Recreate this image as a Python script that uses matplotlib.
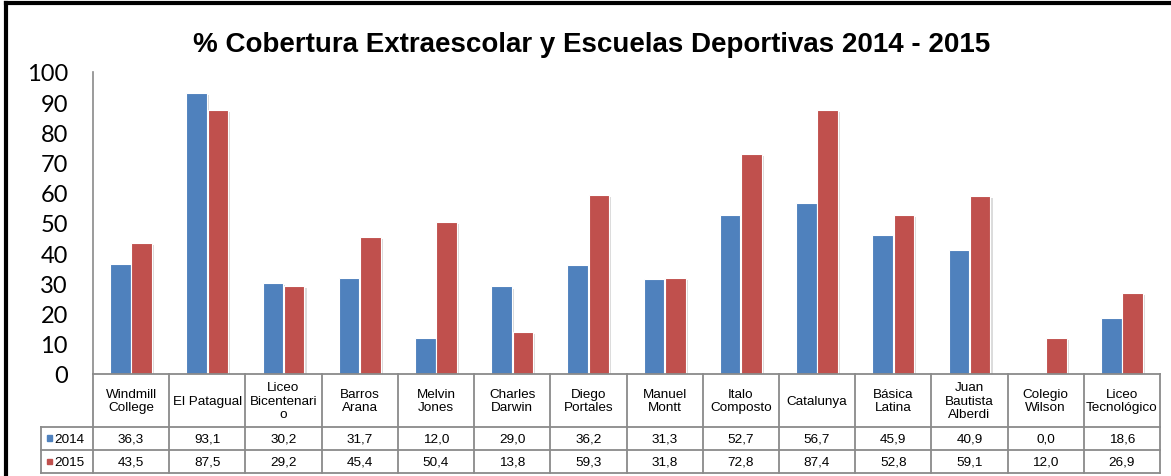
import matplotlib.pyplot as plt
import matplotlib.patheffects as pe
from matplotlib.lines import Line2D
from matplotlib.patches import Rectangle

categories = ["Windmill\nCollege", "El Patagual", "Liceo\nBicentenari\no", "Barros\nArana",
              "Melvin\nJones", "Charles\nDarwin", "Diego\nPortales", "Manuel\nMontt",
              "Italo\nComposto", "Catalunya", "Básica\nLatina", "Juan\nBautista\nAlberdi",
              "Colegio\nWilson", "Liceo\nTecnológico"]
v2014 = [36.3, 93.1, 30.2, 31.7, 12.0, 29.0, 36.2, 31.3, 52.7, 56.7, 45.9, 40.9, 0.0, 18.6]
v2015 = [43.5, 87.5, 29.2, 45.4, 50.4, 13.8, 59.3, 31.8, 72.8, 87.4, 52.8, 59.1, 12.0, 26.9]
series = ["2014", "2015"]
yticks = [0, 10, 20, 30, 40, 50, 60, 70, 80, 90, 100]

blue = '#4F81BD'
red = '#C0504D'
grid_c = '#8a8a8a'

W, H = 1171, 477
fig = plt.figure(figsize=(W / 100, H / 100), dpi=100)
ax = fig.add_axes([93 / W, (H - 375) / H, (1160 - 93) / W, (375 - 73) / H])

n = len(categories)
x = list(range(n))
bw = 0.27
shadow = [pe.SimplePatchShadow(offset=(1.5, -1.5), shadow_rgbFace='#999999', alpha=0.35), pe.Normal()]
b1 = ax.bar([i - 0.14 for i in x], v2014, width=bw, color=blue, edgecolor='white', linewidth=0.8)
b2 = ax.bar([i + 0.14 for i in x], v2015, width=bw, color=red, edgecolor='white', linewidth=0.8)
for b in list(b1) + list(b2):
    b.set_path_effects(shadow)

ax.set_xlim(-0.5, n - 0.5)
ax.set_ylim(0, 100)
ax.set_yticks(yticks)
ax.set_yticklabels([str(t) for t in yticks], fontsize=17, family='Lato')
ax.tick_params(axis='y', length=0, pad=18)
ax.set_xticks([])
for s in ['top', 'right', 'bottom']:
    ax.spines[s].set_visible(False)
ax.spines['left'].set_color(grid_c)
ax.spines['left'].set_linewidth(1.2)

fig.text(592 / W, 1 - 45 / H, "% Cobertura Extraescolar y Escuelas Deportivas 2014 - 2015",
         fontsize=20, fontweight='bold', family='Liberation Sans', ha='center', va='center')

# data table under the axis
tr = ax.get_xaxis_transform()
rows = [0, -0.1755, -0.2517, -0.328]
x_leg = -0.5 - 52 / 76.2
lk = dict(transform=tr, color=grid_c, linewidth=1.3, clip_on=False)
ax.add_line(Line2D([-0.5, n - 0.5], [rows[0], rows[0]], **lk))
for r in rows[1:]:
    ax.add_line(Line2D([x_leg, n - 0.5], [r, r], **lk))
for i in range(n + 1):
    ax.add_line(Line2D([i - 0.5, i - 0.5], [rows[0], rows[-1]], **lk))
ax.add_line(Line2D([x_leg, x_leg], [rows[1], rows[-1]], **lk))

tk = dict(transform=tr, ha='center', va='center', fontsize=9.7, family='Liberation Sans',
          clip_on=False, linespacing=1.15)
for i, c in enumerate(categories):
    ax.text(i, (rows[0] + rows[1]) / 2, c, **tk)
for k, (vals, col) in enumerate([(v2014, blue), (v2015, red)]):
    yc = (rows[k + 1] + rows[k + 2]) / 2
    for i, v in enumerate(vals):
        ax.text(i, yc, f"{v:.1f}".replace('.', ','), **tk)
    ax.add_patch(Rectangle((x_leg + 0.085, yc - 0.008), 0.065, 0.018, transform=tr,
                           color=col, clip_on=False))
    ax.text(x_leg + 0.18, yc, series[k], transform=tr, ha='left', va='center', fontsize=9.7,
            family='Liberation Sans', clip_on=False)

# outer chart frame
fig.add_artist(Line2D([6 / W, 6 / W], [0, 1 - 4 / H], color='black', linewidth=3))
fig.add_artist(Line2D([6 / W, 1], [1 - 4 / H, 1 - 4 / H], color='black', linewidth=3))

fig.savefig('out.png', dpi=100)
